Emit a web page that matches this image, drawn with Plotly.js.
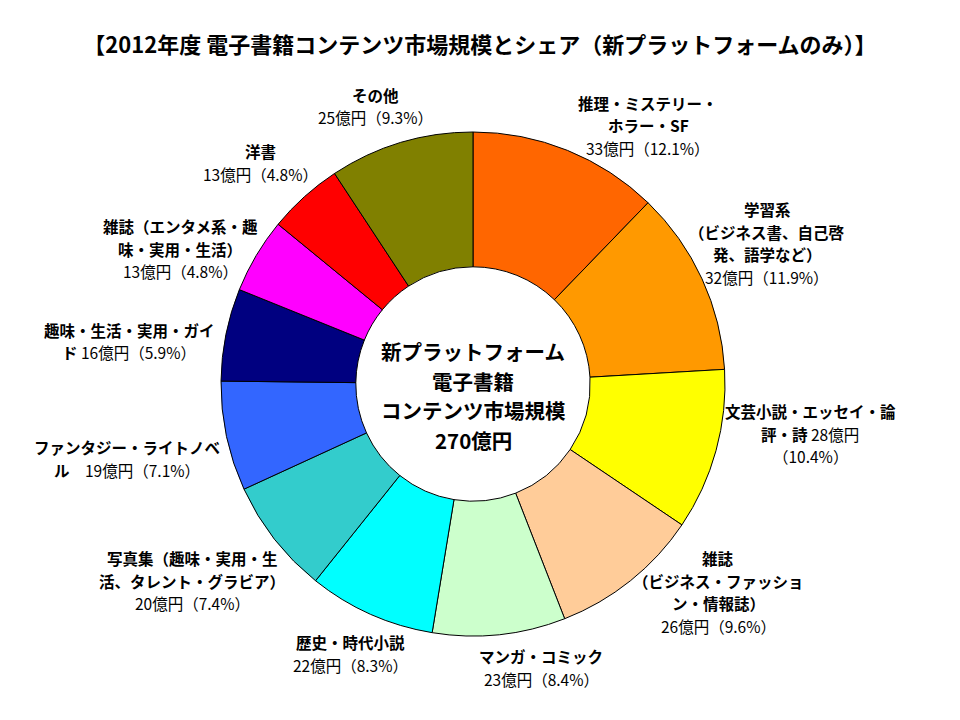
<!DOCTYPE html>
<html>
<head>
<meta charset="utf-8">
<script src="https://cdn.plot.ly/plotly-3.0.1.min.js"></script>
<style>
  html, body { margin: 0; padding: 0; background: #fff; }
  #chart { width: 960px; height: 720px; }
</style>
</head>
<body>
<div id="chart"></div>
<script>
// 2012年度 電子書籍コンテンツ市場規模（新プラットフォームのみ）, 億円
var categories = [
  '推理・ミステリー・ホラー・SF',
  '学習系（ビジネス書、自己啓発、語学など）',
  '文芸小説・エッセイ・論評・詩',
  '雑誌（ビジネス・ファッション・情報誌）',
  'マンガ・コミック',
  '歴史・時代小説',
  '写真集（趣味・実用・生活、タレント・グラビア）',
  'ファンタジー・ライトノベル',
  '趣味・生活・実用・ガイド',
  '雑誌（エンタメ系・趣味・実用・生活）',
  '洋書',
  'その他'
];
var values = [33, 32, 28, 26, 23, 22, 20, 19, 16, 13, 13, 25];
var shares = ['12.1', '11.9', '10.4', '9.6', '8.4', '8.3', '7.4', '7.1', '5.9', '4.8', '4.8', '9.3'];
var colors = ['#FF6600', '#FF9900', '#FFFF00', '#FFCC99', '#CCFFCC', '#00FFFF',
              '#33CCCC', '#3366FF', '#000080', '#FF00FF', '#FF0000', '#808000'];

// label layout as in the original slide: {v} = value, {s} = share
var labelTemplates = [
  '<b>推理・ミステリー・</b>|<b>ホラー・SF</b>|{v}億円（{s}%）',
  '<b>学習系</b>|<b>（ビジネス書、自己啓</b>|<b>発、語学など）</b>|{v}億円（{s}%）',
  '<b>文芸小説・エッセイ・論</b>|<b>評・詩</b> {v}億円|（{s}%）',
  '<b>雑誌</b>|<b>（ビジネス・ファッショ</b>|<b>ン・情報誌）</b>|{v}億円（{s}%）',
  '<b>マンガ・コミック</b>|{v}億円（{s}%）',
  '<b>歴史・時代小説</b>|{v}億円（{s}%）',
  '<b>写真集（趣味・実用・生</b>|<b>活、タレント・グラビア）</b>|{v}億円（{s}%）',
  '<b>ファンタジー・ライトノベ</b>|<b>ル</b>　{v}億円（{s}%）',
  '<b>趣味・生活・実用・ガイ</b>|<b>ド</b> {v}億円（{s}%）',
  '<b>雑誌（エンタメ系・趣</b>|<b>味・実用・生活）</b>|{v}億円（{s}%）',
  '<b>洋書</b>|{v}億円（{s}%）',
  '<b>その他</b>|{v}億円（{s}%）'
];
var centerLines = ['新プラットフォーム', '電子書籍', 'コンテンツ市場規模', '270億円'];
var chartTitle = '【2012年度 電子書籍コンテンツ市場規模とシェア（新プラットフォームのみ）】';

// label anchors in pixels (centre x, first line y)
var labelPos = [
  [648, 103], [767, 209], [810, 411], [718, 558], [541, 656], [350, 642],
  [192, 558], [127, 447], [129, 330], [180, 226], [260, 151], [375, 95]
];

var W = 960, H = 720;
var FONT = '"Noto Sans CJK JP", "Noto Sans", sans-serif';
function px(x) { return x / W; }
function py(y) { return 1 - y / H; }

var cx = 473, cy = 384, r = 252;

var annotations = [];
labelTemplates.forEach(function (tpl, i) {
  var lines = tpl.replace('{v}', values[i]).replace('{s}', shares[i]).split('|');
  lines.forEach(function (line, j) {
    annotations.push({
      xref: 'paper', yref: 'paper',
      x: px(labelPos[i][0]), y: py(labelPos[i][1] + j * 22.5),
      xanchor: 'center', yanchor: 'middle',
      text: line, showarrow: false,
      font: {family: FONT, size: 15.5, color: '#000'}
    });
  });
});
// centre of the ring
centerLines.forEach(function (line, j) {
  annotations.push({
    xref: 'paper', yref: 'paper',
    x: px(cx), y: py(351 + j * 29.7),
    xanchor: 'center', yanchor: 'middle',
    text: '<b>' + line + '</b>', showarrow: false,
    font: {family: FONT, size: 20.5, color: '#000'}
  });
});

var trace = {
  type: 'pie',
  labels: categories,
  values: values,
  sort: false,
  direction: 'clockwise',
  rotation: 0,
  hole: 0.465,
  textinfo: 'none',
  hoverinfo: 'label+value',
  marker: {colors: colors, line: {color: '#000', width: 1}},
  domain: {
    x: [px(cx - r), px(cx + r)],
    y: [py(cy + r), py(cy - r)]
  },
  showlegend: false
};

var layout = {
  width: W, height: H,
  margin: {l: 0, r: 0, t: 0, b: 0},
  paper_bgcolor: '#fff',
  title: {
    text: '<b>' + chartTitle + '</b>',
    x: 0.5, xanchor: 'center',
    y: py(45), yref: 'container', yanchor: 'middle',
    font: {family: FONT, size: 22, color: '#000'}
  },
  annotations: annotations,
  showlegend: false
};

Plotly.newPlot('chart', [trace], layout, {displayModeBar: false, staticPlot: true});
</script>
</body>
</html>
